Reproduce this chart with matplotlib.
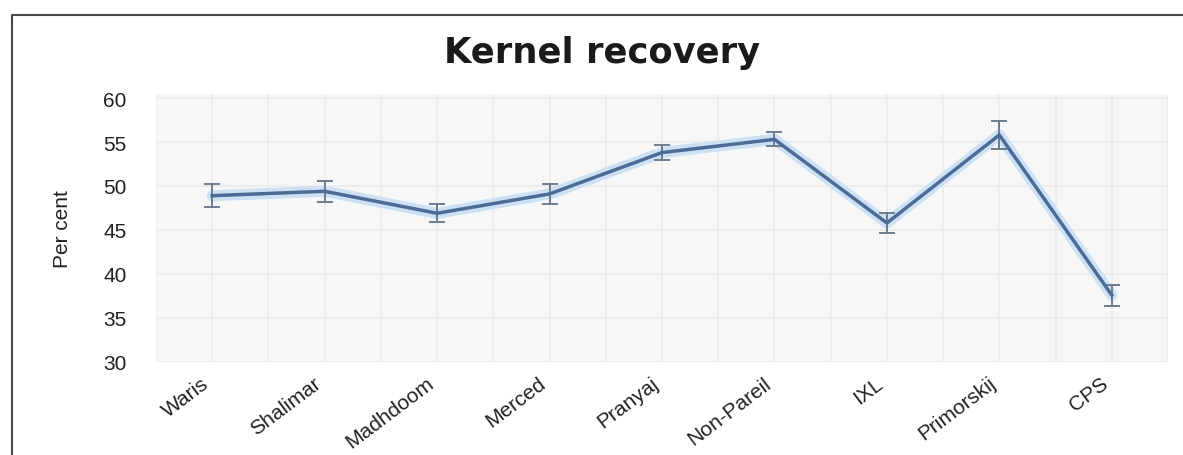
import matplotlib
matplotlib.use("Agg")
import matplotlib.pyplot as plt
from matplotlib.lines import Line2D
from matplotlib.ticker import MultipleLocator

# Kernel recovery (%) by cultivar, with error bars
cultivars = ["Waris", "Shalimar", "Madhdoom", "Merced", "Pranyaj",
             "Non-Pareil", "IXL", "Primorskij", "CPS"]
recovery = [48.9, 49.4, 46.9, 49.1, 53.8, 55.3, 45.8, 55.8, 37.6]
errors = [1.3, 1.2, 1.0, 1.1, 0.9, 0.8, 1.1, 1.6, 1.2]
yticks = [30, 35, 40, 45, 50, 55, 60]

W, H = 1183, 456
fig = plt.figure(figsize=(W / 100, H / 100), dpi=100)
fig.patch.set_facecolor("white")

ax = fig.add_axes([156 / W, 1 - 363 / H, (1168 - 156) / W, (363 - 94.6) / H])
ax.set_facecolor("#f7f7f7")
for s in ax.spines.values():
    s.set_visible(False)

x = list(range(len(cultivars)))

# soft halo under the line
ax.plot(x, recovery, color="#cde1f4", lw=8, solid_capstyle="round",
        solid_joinstyle="round", zorder=2)
ax.errorbar(x, recovery, yerr=errors, fmt="none", ecolor="#6e7d8e",
            elinewidth=1.4, capsize=6, capthick=1.4, zorder=3)
ax.plot(x, recovery, color="#4d6b97", lw=2.5, solid_joinstyle="round",
        zorder=4)

ax.set_xlim(-0.5, len(cultivars) - 0.5)
ax.set_ylim(30, 60.5)
ax.set_yticks(yticks)
ax.set_xticks(x)
ax.xaxis.set_minor_locator(MultipleLocator(0.5))
ax.grid(True, which="both", axis="x", color="#ececec", lw=1.2)
ax.grid(True, which="major", axis="y", color="#ececec", lw=1.2)
ax.set_axisbelow(True)

tick_font = {"family": ["Liberation Sans", "DejaVu Sans"], "size": 15}
ax.set_yticklabels([str(v) for v in yticks], fontdict=tick_font, color="#222222")
ax.set_xticklabels(cultivars, fontdict=tick_font, color="#222222",
                   rotation=37, ha="right", va="top")
ax.tick_params(axis="both", which="both", length=0)
ax.tick_params(axis="y", pad=21)
ax.tick_params(axis="x", pad=8)

ax.set_ylabel("Per cent", fontdict=tick_font, color="#222222")
ax.yaxis.set_label_coords((72 - 156) / (1168 - 156), 0.5)

fig.text(602 / W, 1 - 63 / H, "Kernel recovery", ha="center", va="baseline",
         fontsize=25.5, fontweight="bold", family="DejaVu Sans", color="#1a1a1a")

# outer frame (top and left edges)
fx, fy = 11.5 / W, 1 - 15.5 / H
fig.add_artist(Line2D([fx, fx, 1.0], [0.0, fy, fy], transform=fig.transFigure,
                      color="#4a4a4a", lw=1.5))

fig.savefig("out.png", dpi=100, facecolor="white")
